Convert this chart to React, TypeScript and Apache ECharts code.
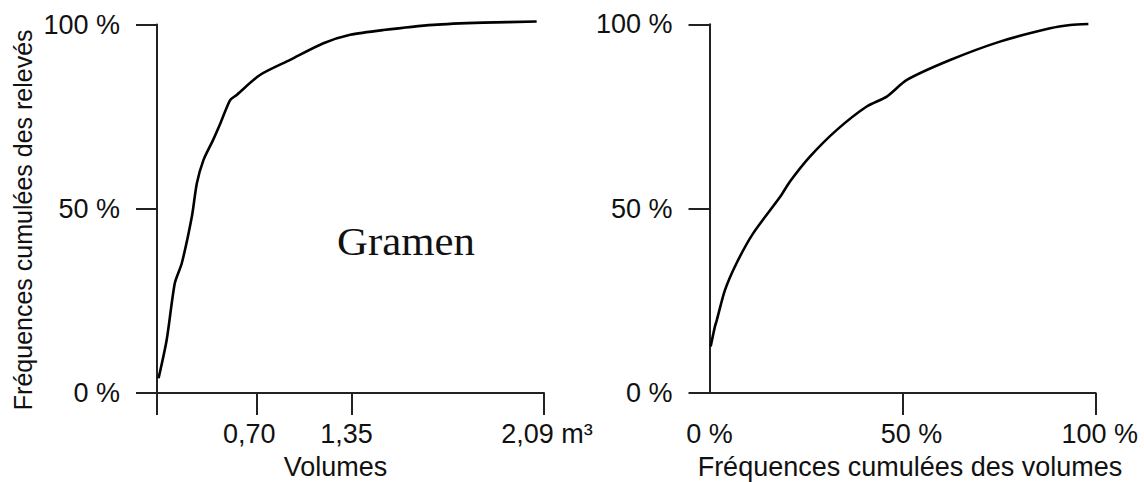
import React, { useEffect, useRef } from "react";
import * as echarts from "echarts";

// ---- Data ----
const yTickValues = [0, 50, 100];

// Left panel ("Gramen"): x is the position along the volume axis (0–100 of its length)
const leftTickPositions = [25.8, 50.4, 100];
const leftTickLabels = ["0,70", "1,35", "2,09 m³"];
const leftX = [0.4, 2.5, 4.6, 6.4, 9.0, 10.3, 12.0, 14.5, 16.5, 18.9, 20.6, 26.6, 34.4, 43.0, 49.9, 58.5, 71.4, 84.3, 98.1];
const leftY = [4.0, 14.4, 29.8, 35.2, 47.8, 56.9, 63.2, 68.7, 73.5, 79.5, 80.9, 86.3, 90.4, 94.9, 97.2, 98.5, 99.9, 100.5, 100.8];

// Right panel: cumulative frequency of volumes vs cumulative frequency of records
const rightTickValues = [0, 50, 100];
const rightX = [0.3, 1.4, 1.9, 4.0, 7.0, 11.3, 18.3, 20.8, 26.0, 32.9, 40.7, 45.9, 51.1, 62.3, 75.2, 88.2, 93.4, 98.1];
const rightY = [12.6, 18.0, 19.8, 27.9, 35.2, 43.3, 53.2, 57.3, 64.1, 71.3, 77.7, 80.4, 84.9, 90.3, 95.3, 98.9, 99.8, 100.1];

const yTitle = "Fréquences cumulées des relevés";
const leftXTitle = "Volumes";
const rightXTitle = "Fréquences cumulées des volumes";
const panelLabel = "Gramen";

const SANS = "'Liberation Sans', Arial, Helvetica, sans-serif";
const SERIF = "'Liberation Serif', 'Times New Roman', serif";
const INK = "#111";
const AXIS = { color: "#222", width: 2 };

export default function App() {
  const ref = useRef<HTMLDivElement>(null);

  useEffect(() => {
    if (!ref.current) return;
    const chart = echarts.init(ref.current, null, { renderer: "svg" });

    const labelBase = { color: INK, fontSize: 27, fontFamily: SANS };
    const pct = (v: number) => `${v} %`;
    const tok = (pad: number[]) => ({ ...labelBase, padding: pad });

    const leftRichKeys = ["a", "b", "c"];
    const rightRichKeys = ["o", "p", "q"];

    const option: any = {
      animation: false,
      backgroundColor: "#fff",
      grid: [
        { left: 157, top: 24.5, width: 387, height: 368.5, outerBoundsMode: "none" },
        { left: 709.5, top: 24.3, width: 386.2, height: 368.7, outerBoundsMode: "none" },
      ],
      xAxis: [
        {
          gridIndex: 0,
          type: "value",
          min: 0,
          max: 100,
          axisLine: { show: true, onZero: false, lineStyle: AXIS },
          axisTick: { show: true, length: 22, customValues: [0, ...leftTickPositions], lineStyle: AXIS },
          axisLabel: {
            ...labelBase,
            margin: 27,
            customValues: leftTickPositions,
            formatter: (v: number) => {
              const i = leftTickPositions.findIndex((p) => Math.abs(p - v) < 1e-6);
              return i >= 0 ? `{${leftRichKeys[i]}|${leftTickLabels[i]}}` : "";
            },
            rich: {
              a: tok([0, 15, 0, 0]),
              b: tok([0, 11, 0, 0]),
              c: tok([0, 0, 0, 6]),
            },
          },
          splitLine: { show: false },
        },
        {
          gridIndex: 1,
          type: "value",
          min: 0,
          max: 100,
          axisLine: { show: true, onZero: false, lineStyle: AXIS },
          axisTick: { show: true, length: 22, customValues: rightTickValues.filter((v) => v > 0), lineStyle: AXIS },
          axisLabel: {
            ...labelBase,
            margin: 27,
            customValues: rightTickValues,
            formatter: (v: number) => {
              const i = rightTickValues.indexOf(v);
              return i >= 0 ? `{${rightRichKeys[i]}|${pct(v)}}` : "";
            },
            rich: {
              o: tok([0, 0, 0, 0]),
              p: tok([0, 0, 0, 18]),
              q: tok([0, 0, 0, 8]),
            },
          },
          splitLine: { show: false },
        },
      ],
      yAxis: [0, 1].map((g) => ({
        gridIndex: g,
        type: "value",
        min: 0,
        max: 100,
        interval: 50,
        axisLine: { show: true, onZero: false, lineStyle: AXIS },
        axisTick: { show: true, length: 21, customValues: yTickValues, lineStyle: AXIS },
        axisLabel: { ...labelBase, margin: 37, customValues: yTickValues, formatter: pct },
        splitLine: { show: false },
      })),
      series: [
        {
          type: "line",
          xAxisIndex: 0,
          yAxisIndex: 0,
          data: leftX.map((x, i) => [x, leftY[i]]),
          showSymbol: false,
          symbol: "none",
          smooth: 0.25,
          clip: false,
          lineStyle: { color: "#000", width: 2.6 },
        },
        {
          type: "line",
          xAxisIndex: 1,
          yAxisIndex: 1,
          data: rightX.map((x, i) => [x, rightY[i]]),
          showSymbol: false,
          symbol: "none",
          smooth: 0.25,
          clip: false,
          lineStyle: { color: "#000", width: 2.6 },
        },
      ],
      graphic: [
        {
          type: "text",
          x: 22.5,
          y: 219.8,
          rotation: Math.PI / 2,
          style: {
            text: yTitle,
            fill: INK,
            font: `25px ${SANS}`,
            align: "center",
            verticalAlign: "middle",
            textAlign: "center",
            textVerticalAlign: "middle",
          },
        },
        {
          type: "text",
          x: 335.5,
          y: 467,
          style: {
            text: leftXTitle,
            fill: INK,
            font: `27px ${SANS}`,
            align: "center",
            verticalAlign: "middle",
            textAlign: "center",
            textVerticalAlign: "middle",
          },
        },
        {
          type: "text",
          x: 910,
          y: 467,
          style: {
            text: rightXTitle,
            fill: INK,
            font: `27px ${SANS}`,
            align: "center",
            verticalAlign: "middle",
            textAlign: "center",
            textVerticalAlign: "middle",
          },
        },
        {
          type: "text",
          x: 406,
          y: 241,
          scaleX: 1.07,
          style: {
            text: panelLabel,
            fill: INK,
            font: `40px ${SERIF}`,
            align: "center",
            verticalAlign: "middle",
            textAlign: "center",
            textVerticalAlign: "middle",
          },
        },
      ],
    };

    chart.setOption(option);
    return () => chart.dispose();
  }, []);

  return (
    <div
      ref={ref}
      style={{ position: "fixed", left: 0, top: 0, width: 1144, height: 482, background: "#fff" }}
    />
  );
}
